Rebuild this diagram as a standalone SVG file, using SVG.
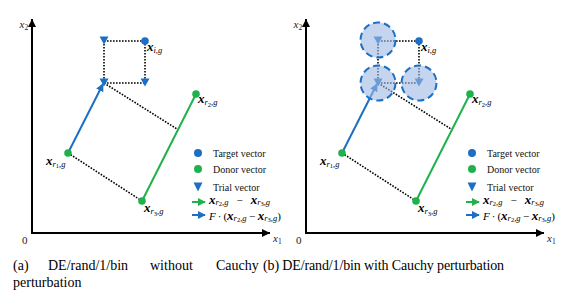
<svg xmlns="http://www.w3.org/2000/svg" width="578" height="301" viewBox="0 0 578 301">
<style>
.axis{stroke:#000;stroke-width:2;fill:none}
.dot{stroke:#000;stroke-width:1.6;stroke-dasharray:1.6 1.4;fill:none}
.blue{fill:#1c6fc4}
.green{fill:#1fb24a}
.bl{stroke:#1c6fc4;stroke-width:2;fill:none}
.gl{stroke:#1fb24a;stroke-width:2;fill:none}
.halo{fill:#9fb9e4;fill-opacity:0.6;stroke:#1c6fc4;stroke-width:2;stroke-dasharray:7 4}
.m{font-family:"Liberation Serif","Times New Roman",serif;fill:#000}
.v{font-weight:bold;font-style:italic;font-size:13px}
.s{font-style:italic;font-size:8.5px}
.ss{font-size:6.5px}
.ax{font-family:"Liberation Serif","Times New Roman",serif;font-style:italic;font-size:11px;fill:#222}
.ax0{font-family:"Liberation Serif","Times New Roman",serif;font-size:11px;fill:#222}
.leg{font-family:"Liberation Serif","Times New Roman",serif;font-size:10px;fill:#111}
.cap{font-family:"Liberation Serif","Times New Roman",serif;font-size:14px;fill:#000}
</style>
<defs>
<marker id="ah" viewBox="0 0 10 10" refX="10" refY="5" markerWidth="4" markerHeight="4" markerUnits="strokeWidth" orient="auto"><path d="M0,0 L10,5 L0,10 Z" fill="#000"/></marker>
<marker id="ahb" viewBox="0 0 10 10" refX="9" refY="5" markerWidth="4" markerHeight="4" markerUnits="strokeWidth" orient="auto"><path d="M0,0 L10,5 L0,10 Z" fill="#1c6fc4"/></marker>
<marker id="ahg" viewBox="0 0 10 10" refX="9" refY="5" markerWidth="4" markerHeight="4" markerUnits="strokeWidth" orient="auto"><path d="M0,0 L10,5 L0,10 Z" fill="#1fb24a"/></marker>
<path id="tri" d="M-4.5,-4 L4.5,-4 L0,4 Z"/>
<path id="triL" d="M-4.5,-4.5 L4.5,-4.5 L0,4.5 Z"/>
</defs>

<!-- Panel (a) -->
<g id="panel-a">
  <g id="axes-a">
    <line class="axis" x1="32" y1="233" x2="32" y2="19" marker-end="url(#ah)"/>
    <line class="axis" x1="31" y1="233" x2="270" y2="233" marker-end="url(#ah)"/>
    <text class="ax" x="19.5" y="27.5">x<tspan font-size="7.5" font-style="normal" dy="2">2</tspan></text>
    <text class="ax0" x="22" y="243.5">0</text>
    <text class="ax" x="273" y="242">x<tspan font-size="7.5" font-style="normal" dy="2">1</tspan></text>
  </g>
  <g id="connectors-a">
    <line class="dot" x1="104" y1="41" x2="145" y2="41"/>
    <line class="dot" x1="104" y1="41" x2="104" y2="83"/>
    <line class="dot" x1="104" y1="83" x2="145" y2="83"/>
    <line class="dot" x1="145" y1="41" x2="145" y2="83"/>
    <line class="dot" x1="104" y1="83" x2="177" y2="129"/>
    <line class="dot" x1="68" y1="153" x2="142" y2="201"/>
    <line class="gl" x1="142" y1="201" x2="196" y2="94"/>
    <line class="bl" x1="68" y1="153" x2="103" y2="84" marker-end="url(#ahb)"/>
  </g>
  <g id="target-a"><circle class="blue" cx="145" cy="41" r="3.8"/>
    <text class="m" x="147" y="50.5"><tspan class="v" font-weight="normal">x</tspan><tspan class="s" dy="2">i,g</tspan></text></g>
  <g id="trial1-a"><use href="#tri" class="blue" x="104" y="40.5"/></g>
  <g id="trial2-a"><use href="#tri" class="blue" x="104" y="82.5"/></g>
  <g id="trial3-a"><use href="#tri" class="blue" x="145" y="82.5"/></g>
  <g id="r1-a"><circle class="green" cx="68" cy="153" r="3.8"/>
    <text class="m" x="46" y="164.5"><tspan class="v">x</tspan><tspan class="s" dy="2">r</tspan><tspan class="ss" dy="1.5">1</tspan><tspan class="s" dy="-1.5">,g</tspan></text></g>
  <g id="r2-a"><circle class="green" cx="196" cy="94" r="3.8"/>
    <text class="m" x="198" y="103"><tspan class="v">x</tspan><tspan class="s" dy="2">r</tspan><tspan class="ss" dy="1.5">2</tspan><tspan class="s" dy="-1.5">,g</tspan></text></g>
  <g id="r3-a"><circle class="green" cx="142" cy="201" r="3.8"/>
    <text class="m" x="144" y="212"><tspan class="v">x</tspan><tspan class="s" dy="2">r</tspan><tspan class="ss" dy="1.5">3</tspan><tspan class="s" dy="-1.5">,g</tspan></text></g>
  <g id="legend-a">
    <circle class="blue" cx="198" cy="153" r="4"/>
    <text class="leg" x="213" y="156.5">Target vector</text>
    <circle class="green" cx="198" cy="169" r="4"/>
    <text class="leg" x="213" y="172.5">Donor vector</text>
    <use href="#triL" class="blue" x="198" y="187"/>
    <text class="leg" x="213" y="190.5">Trial vector</text>
    <line class="gl" x1="192" y1="202" x2="205" y2="202" marker-end="url(#ahg)"/>
    <text class="m" x="209" y="203.5"><tspan class="v" font-size="12">x</tspan><tspan class="s" dy="1.2">r</tspan><tspan class="ss" dy="1">2</tspan><tspan class="s" dy="-1">,g</tspan><tspan font-size="11" dx="8" dy="-1.2">−</tspan><tspan class="v" font-size="12" dx="8">x</tspan><tspan class="s" dy="1.2">r</tspan><tspan class="ss" dy="1">3</tspan><tspan class="s" dy="-1">,g</tspan></text>
    <line class="bl" x1="192" y1="215" x2="205" y2="215" marker-end="url(#ahb)"/>
    <text class="m" x="209" y="219.5"><tspan font-style="italic" font-size="11">F</tspan><tspan font-size="11" dx="2">·</tspan><tspan font-size="11" dx="2">(</tspan><tspan class="v" font-size="12">x</tspan><tspan class="s" dy="1.2">r</tspan><tspan class="ss" dy="1">2</tspan><tspan class="s" dy="-1">,g</tspan><tspan font-size="11" dx="2.5" dy="-1.2">−</tspan><tspan class="v" font-size="12" dx="2.5">x</tspan><tspan class="s" dy="1.2">r</tspan><tspan class="ss" dy="1">3</tspan><tspan class="s" dy="-1">,g</tspan><tspan font-size="11" dy="-1.2">)</tspan></text>
  </g>
</g>

<!-- Panel (b) -->
<g id="panel-b" transform="translate(274,0)">
  <g id="axes-b">
    <line class="axis" x1="32" y1="233" x2="32" y2="19" marker-end="url(#ah)"/>
    <line class="axis" x1="31" y1="233" x2="270" y2="233" marker-end="url(#ah)"/>
    <text class="ax" x="19.5" y="27.5">x<tspan font-size="7.5" font-style="normal" dy="2">2</tspan></text>
    <text class="ax0" x="22" y="243.5">0</text>
    <text class="ax" x="273" y="242">x<tspan font-size="7.5" font-style="normal" dy="2">1</tspan></text>
  </g>
  <g id="connectors-b">
    <line class="dot" x1="104" y1="41" x2="145" y2="41"/>
    <line class="dot" x1="104" y1="41" x2="104" y2="83"/>
    <line class="dot" x1="104" y1="83" x2="145" y2="83"/>
    <line class="dot" x1="145" y1="41" x2="145" y2="83"/>
    <line class="dot" x1="104" y1="83" x2="177" y2="129"/>
    <line class="dot" x1="68" y1="153" x2="142" y2="201"/>
    <line class="gl" x1="142" y1="201" x2="196" y2="94"/>
    <line class="bl" x1="68" y1="153" x2="103" y2="84" marker-end="url(#ahb)"/>
  </g>
  <g id="target-b"><circle class="blue" cx="145" cy="41" r="3.8"/>
    <text class="m" x="147" y="50.5"><tspan class="v" font-weight="normal">x</tspan><tspan class="s" dy="2">i,g</tspan></text></g>
  <g id="trial1-b"><use href="#tri" class="blue" x="104" y="40.5"/><circle class="halo" cx="104" cy="40" r="17.5"/></g>
  <g id="trial2-b"><use href="#tri" class="blue" x="104" y="82.5"/><circle class="halo" cx="104" cy="83" r="17.5"/></g>
  <g id="trial3-b"><use href="#tri" class="blue" x="145" y="82.5"/><circle class="halo" cx="145" cy="83" r="17.5"/></g>
  <g id="r1-b"><circle class="green" cx="68" cy="153" r="3.8"/>
    <text class="m" x="46" y="164.5"><tspan class="v">x</tspan><tspan class="s" dy="2">r</tspan><tspan class="ss" dy="1.5">1</tspan><tspan class="s" dy="-1.5">,g</tspan></text></g>
  <g id="r2-b"><circle class="green" cx="196" cy="94" r="3.8"/>
    <text class="m" x="198" y="103"><tspan class="v">x</tspan><tspan class="s" dy="2">r</tspan><tspan class="ss" dy="1.5">2</tspan><tspan class="s" dy="-1.5">,g</tspan></text></g>
  <g id="r3-b"><circle class="green" cx="142" cy="201" r="3.8"/>
    <text class="m" x="144" y="212"><tspan class="v">x</tspan><tspan class="s" dy="2">r</tspan><tspan class="ss" dy="1.5">3</tspan><tspan class="s" dy="-1.5">,g</tspan></text></g>
  <g id="legend-b">
    <circle class="blue" cx="198" cy="153" r="4"/>
    <text class="leg" x="213" y="156.5">Target vector</text>
    <circle class="green" cx="198" cy="169" r="4"/>
    <text class="leg" x="213" y="172.5">Donor vector</text>
    <use href="#triL" class="blue" x="198" y="187"/>
    <text class="leg" x="213" y="190.5">Trial vector</text>
    <line class="gl" x1="192" y1="202" x2="205" y2="202" marker-end="url(#ahg)"/>
    <text class="m" x="209" y="203.5"><tspan class="v" font-size="12">x</tspan><tspan class="s" dy="1.2">r</tspan><tspan class="ss" dy="1">2</tspan><tspan class="s" dy="-1">,g</tspan><tspan font-size="11" dx="8" dy="-1.2">−</tspan><tspan class="v" font-size="12" dx="8">x</tspan><tspan class="s" dy="1.2">r</tspan><tspan class="ss" dy="1">3</tspan><tspan class="s" dy="-1">,g</tspan></text>
    <line class="bl" x1="192" y1="215" x2="205" y2="215" marker-end="url(#ahb)"/>
    <text class="m" x="209" y="219.5"><tspan font-style="italic" font-size="11">F</tspan><tspan font-size="11" dx="2">·</tspan><tspan font-size="11" dx="2">(</tspan><tspan class="v" font-size="12">x</tspan><tspan class="s" dy="1.2">r</tspan><tspan class="ss" dy="1">2</tspan><tspan class="s" dy="-1">,g</tspan><tspan font-size="11" dx="2.5" dy="-1.2">−</tspan><tspan class="v" font-size="12" dx="2.5">x</tspan><tspan class="s" dy="1.2">r</tspan><tspan class="ss" dy="1">3</tspan><tspan class="s" dy="-1">,g</tspan><tspan font-size="11" dy="-1.2">)</tspan></text>
  </g>
</g>

<!-- Captions -->
<g id="captions">
  <text class="cap" x="13" y="270">(a)</text>
  <text class="cap" x="48" y="270">DE/rand/1/bin</text>
  <text class="cap" x="150" y="270">without</text>
  <text class="cap" x="216" y="270">Cauchy</text>
  <text class="cap" x="13" y="287">perturbation</text>
  <text class="cap" x="263" y="270" textLength="241" lengthAdjust="spacing">(b) DE/rand/1/bin with Cauchy perturbation</text>
</g>
</svg>
